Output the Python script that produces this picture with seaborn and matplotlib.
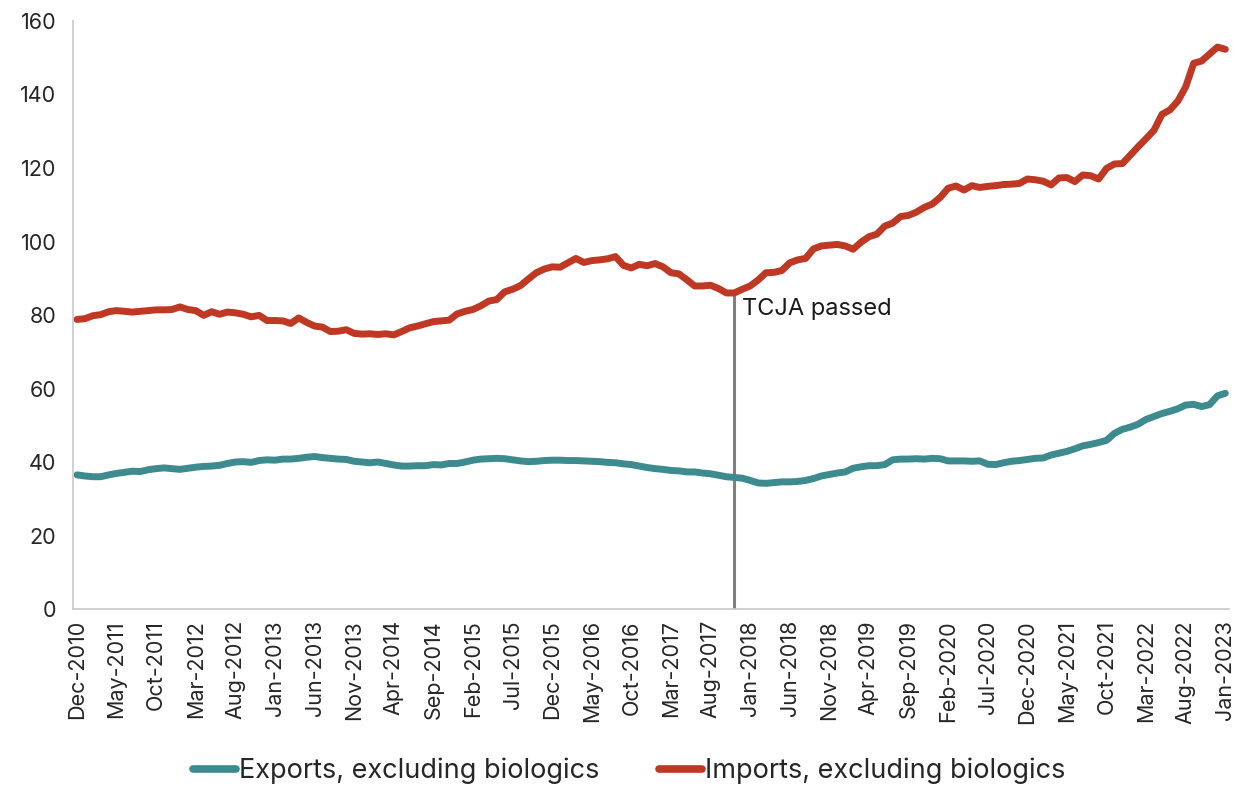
import pandas as pd
import matplotlib.pyplot as plt
import seaborn as sns


months = pd.date_range("2010-12-01", "2023-01-01", freq="MS").strftime("%b-%Y").tolist()

exports = [
    36.5, 36.2, 36.0, 36.0, 36.5, 36.9, 37.2, 37.5, 37.4, 37.9,
    38.2, 38.4, 38.2, 38.0, 38.3, 38.6, 38.8, 38.9, 39.1, 39.6,
    40.0, 40.1, 39.9, 40.4, 40.6, 40.5, 40.8, 40.8, 41.0, 41.3,
    41.5, 41.2, 41.0, 40.8, 40.7, 40.2, 40.0, 39.8, 40.0, 39.6,
    39.2, 38.9, 38.9, 39.0, 39.0, 39.3, 39.2, 39.6, 39.6, 40.0,
    40.5, 40.8, 40.9, 41.0, 40.9, 40.6, 40.3, 40.1, 40.2, 40.4,
    40.5, 40.5, 40.4, 40.4, 40.3, 40.2, 40.1, 39.9, 39.8, 39.5,
    39.3, 38.9, 38.5, 38.2, 38.0, 37.7, 37.6, 37.3, 37.3, 37.0,
    36.8, 36.4, 36.0, 35.8, 35.6, 35.0, 34.3, 34.2, 34.4, 34.6,
    34.6, 34.7, 35.0, 35.5, 36.2, 36.6, 37.0, 37.3, 38.3, 38.7,
    39.0, 39.0, 39.3, 40.6, 40.8, 40.8, 40.9, 40.8, 41.0, 40.9,
    40.3, 40.3, 40.3, 40.2, 40.3, 39.4, 39.3, 39.8, 40.2, 40.4,
    40.7, 41.0, 41.1, 41.9, 42.4, 42.9, 43.6, 44.4, 44.8, 45.3,
    45.9, 47.8, 48.9, 49.5, 50.3, 51.6, 52.4, 53.2, 53.8, 54.5,
    55.5, 55.7, 55.1, 55.6, 58.0, 58.7,
]

imports = [
    78.8, 79.0, 79.8, 80.1, 80.9, 81.2, 81.0, 80.8, 81.0, 81.2,
    81.4, 81.4, 81.5, 82.2, 81.5, 81.2, 79.9, 80.9, 80.2, 80.8,
    80.6, 80.2, 79.5, 79.9, 78.5, 78.5, 78.4, 77.7, 79.2, 78.0,
    77.0, 76.7, 75.5, 75.6, 76.0, 75.0, 74.8, 74.9, 74.7, 74.9,
    74.6, 75.5, 76.5, 77.0, 77.6, 78.2, 78.4, 78.6, 80.3, 81.0,
    81.5, 82.5, 83.8, 84.2, 86.3, 87.0, 88.0, 89.8, 91.5, 92.5,
    93.1, 93.0, 94.2, 95.4, 94.3, 94.8, 95.0, 95.3, 95.9, 93.5,
    92.8, 93.8, 93.4, 94.0, 93.1, 91.5, 91.2, 89.6, 87.9, 87.9,
    88.1, 87.2, 86.0, 86.0, 87.0, 87.9, 89.5, 91.5, 91.6, 92.1,
    94.2, 95.0, 95.4, 98.0, 98.8, 99.0, 99.2, 98.8, 97.9, 99.8,
    101.3, 102.0, 104.2, 105.0, 106.8, 107.1, 108.0, 109.3, 110.2, 112.0,
    114.5, 115.1, 114.0, 115.2, 114.7, 115.0, 115.2, 115.5, 115.6, 115.8,
    117.0, 116.8, 116.4, 115.4, 117.3, 117.4, 116.3, 118.1, 117.9, 117.0,
    119.9, 121.1, 121.2, 123.5, 125.8, 128.0, 130.3, 134.6, 135.8, 138.2,
    142.1, 148.5, 149.1, 151.0, 152.9, 152.3,
]

series_names = ["Exports, excluding biologics", "Imports, excluding biologics"]
colors = ["#3d8b8e", "#be3824"]
tcja_month = "Nov-2017"
tcja_label = "TCJA passed"

df = pd.DataFrame({
    "month": list(range(len(months))) * 2,
    "value": exports + imports,
    "series": [series_names[0]] * len(months) + [series_names[1]] * len(months),
})

sns.set_style("white")
plt.rcParams["font.family"] = ["Inter", "DejaVu Sans"]

fig = plt.figure(figsize=(12.33, 7.89), dpi=100)
ax = fig.add_axes([0.0592, 0.2281, 0.9378, 0.7453])

sns.lineplot(data=df, x="month", y="value", hue="series", palette=colors,
             linewidth=5.0, ax=ax, legend=False)

# TCJA marker
t = months.index(tcja_month)
ax.plot([t, t], [0, imports[t]], color="#808080", linewidth=2.2, zorder=1)
ax.text(t + 1, imports[t] - 1.5, tcja_label, ha="left", va="top", fontsize=17, color="#1a1a1a")

ax.set_xlim(-0.5, 145.5)
ax.set_ylim(0, 160)
ax.set_yticks(range(0, 161, 20))
ax.set_xticks(range(0, len(months), 5))
ax.set_xticklabels(months[::5], rotation=90, fontsize=15.5)
ax.tick_params(axis="y", labelsize=15.5, direction="in", length=7, color="#c8c8c8", pad=12)
ax.tick_params(axis="x", length=0, pad=8)
ax.set_xlabel("")
ax.set_ylabel("")

for side in ["top", "right"]:
    ax.spines[side].set_visible(False)
for side in ["left", "bottom"]:
    ax.spines[side].set_color("#c8c8c8")
    ax.spines[side].set_linewidth(1.2)

handles = [plt.Line2D([], [], color=c, linewidth=5.5, solid_capstyle="round") for c in colors]
fig.legend(handles, series_names, loc="center", bbox_to_anchor=(0.51, 0.023), ncol=2,
           frameon=False, fontsize=19.5, handlelength=1.6, handletextpad=0.1,
           columnspacing=2.2)

fig.savefig("out.png", dpi=100)
